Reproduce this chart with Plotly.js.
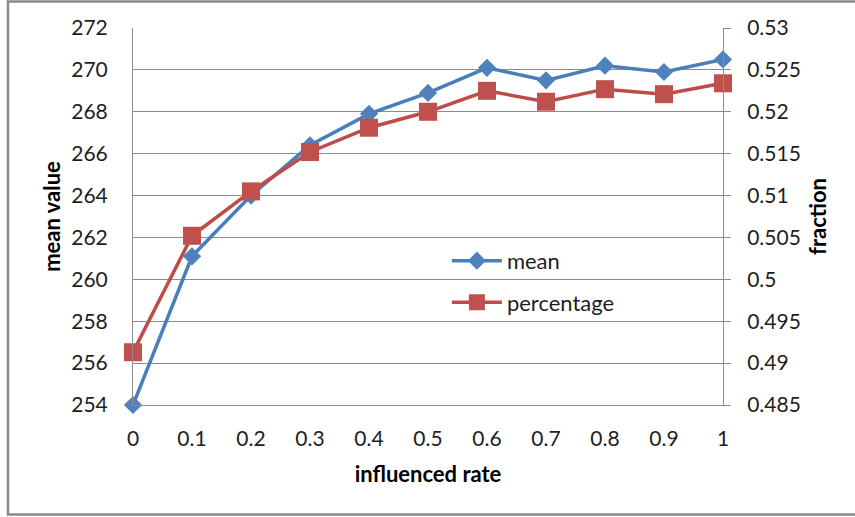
<!DOCTYPE html>
<html>
<head>
<meta charset="utf-8">
<script src="https://cdn.plot.ly/plotly-3.0.1.min.js"></script>
<style>
  html, body { margin: 0; padding: 0; background: #ffffff; }
  #chart { width: 855px; height: 517px; }
</style>
</head>
<body>
<div id="chart"></div>
<script>
// influenced rate on the x axis
const rates = [0, 0.1, 0.2, 0.3, 0.4, 0.5, 0.6, 0.7, 0.8, 0.9, 1];
const rateLabels = ["0", "0.1", "0.2", "0.3", "0.4", "0.5", "0.6", "0.7", "0.8", "0.9", "1"];

// mean value (left axis)
const meanValues = [254.0, 261.1, 264.0, 266.4, 267.9, 268.9, 270.1, 269.5, 270.2, 269.9, 270.5];

// fraction (right axis)
const percentageValues = [0.4913, 0.5052, 0.5105, 0.5152, 0.5181, 0.5200, 0.5225, 0.5212, 0.5227, 0.5221, 0.5234];

// axis ticks
const meanTicks = [254, 256, 258, 260, 262, 264, 266, 268, 270, 272];
const fractionTicks = [0.485, 0.49, 0.495, 0.5, 0.505, 0.51, 0.515, 0.52, 0.525, 0.53];
const fractionTickLabels = ["0.485", "0.49", "0.495", "0.5", "0.505", "0.51", "0.515", "0.52", "0.525", "0.53"];

const FONT = "Lato, 'Open Sans', sans-serif";
const TEXT = "#1e1e1e";
const GRID = "#8c8c8c";
const TICK_SIZE = 21;
const TITLE_FONT = { family: FONT, size: 22, color: "#000000", weight: "bold" };

const traces = [
  {
    x: rates, y: meanValues, name: "mean", yaxis: "y",
    type: "scatter", mode: "lines+markers", cliponaxis: false,
    legendgroup: "a",
    line: { color: "#4A7EBB", width: 3.5 },
    marker: { symbol: "diamond", size: 14, color: "#4F81BD", line: { width: 0 } }
  },
  {
    x: rates, y: percentageValues, name: "percentage", yaxis: "y2",
    type: "scatter", mode: "lines+markers", cliponaxis: false,
    legendgroup: "b",
    line: { color: "#BE4B48", width: 3.5 },
    marker: { symbol: "square", size: 18, color: "#C0504D", line: { width: 0 } }
  }
];

const layout = {
  width: 855, height: 517,
  margin: { l: 133, r: 132, t: 28, b: 112 },
  paper_bgcolor: "#ffffff", plot_bgcolor: "#ffffff",
  font: { family: FONT, size: TICK_SIZE, color: TEXT },
  showlegend: true,
  legend: {
    x: 0.532, y: 0.438, xanchor: "left", yanchor: "top",
    bgcolor: "rgba(0,0,0,0)", borderwidth: 0,
    font: { family: FONT, size: 22, color: TEXT },
    traceorder: "grouped", tracegroupgap: 10,
    itemwidth: 50
  },
  xaxis: {
    range: [0, 1], tickvals: rates, ticktext: rateLabels,
    showgrid: false, zeroline: false,
    showline: true, linecolor: GRID, linewidth: 1,
    ticks: "", ticklabelstandoff: 15,
    tickfont: { family: FONT, size: TICK_SIZE, color: TEXT },
    title: { text: "influenced rate", standoff: 17, font: TITLE_FONT }
  },
  yaxis: {
    range: [254, 272], tickvals: meanTicks,
    showgrid: true, gridcolor: GRID, gridwidth: 1, zeroline: false,
    showline: true, linecolor: GRID, linewidth: 1,
    ticks: "", ticklabelstandoff: 20,
    tickfont: { family: FONT, size: TICK_SIZE, color: TEXT },
    title: { text: "mean value", standoff: 4, font: TITLE_FONT }
  },
  yaxis2: {
    overlaying: "y", side: "right",
    range: [0.485, 0.53], tickvals: fractionTicks, ticktext: fractionTickLabels,
    showgrid: false, zeroline: false,
    showline: true, linecolor: GRID, linewidth: 1,
    ticks: "outside", ticklen: 7, tickcolor: GRID, tickwidth: 1,
    ticklabelstandoff: 12,
    tickfont: { family: FONT, size: TICK_SIZE, color: TEXT },
    title: { text: "fraction", standoff: 10, font: TITLE_FONT }
  },
  shapes: [
    {
      type: "rect", xref: "paper", yref: "paper",
      x0: -0.2119, x1: 1.24, y0: -0.2905, y1: 1.0703,
      line: { color: "#8a8a8a", width: 2.5 }, fillcolor: "rgba(0,0,0,0)", layer: "below"
    }
  ]
};

Plotly.newPlot("chart", traces, layout, { displayModeBar: false, staticPlot: true });
</script>
</body>
</html>
